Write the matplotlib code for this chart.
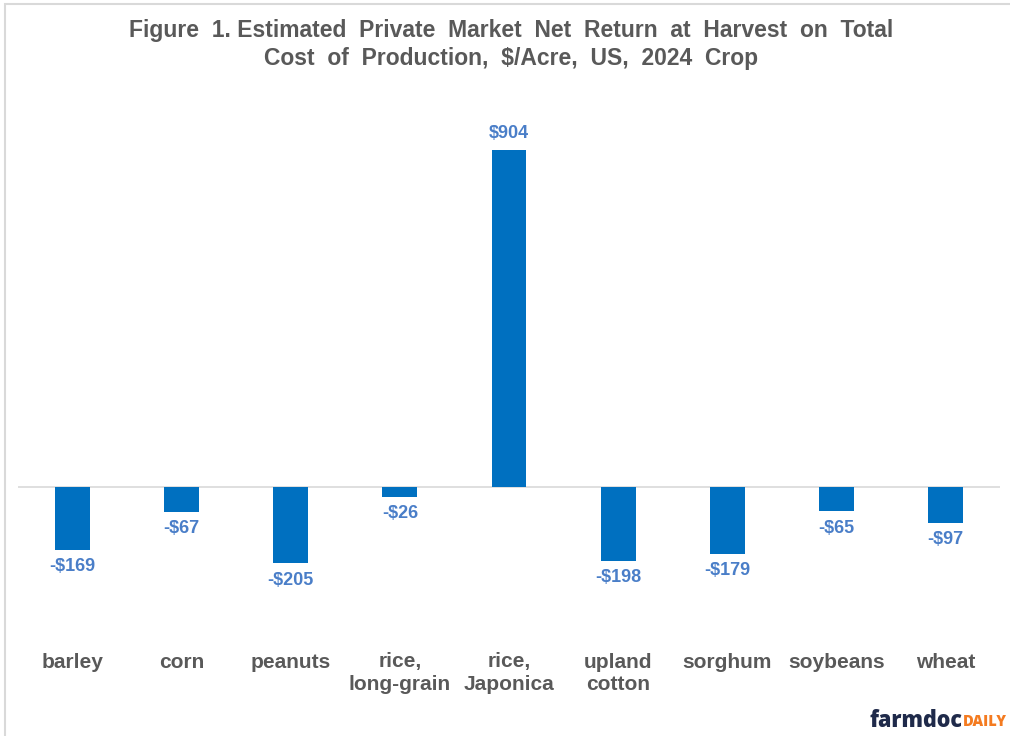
import matplotlib.pyplot as plt
from matplotlib.patches import Rectangle
import numpy as np

plt.rcParams['font.family'] = ['Liberation Sans', 'DejaVu Sans']

COLOR_BAR = "#0070C0"
COLOR_LABEL = "#4A7EC8"
COLOR_TEXT = "#595959"

crops = ["barley", "corn", "peanuts", "rice,\nlong-grain", "rice,\nJaponica",
         "upland\ncotton", "sorghum", "soybeans", "wheat"]
net_return = [-169, -67, -205, -26, 904, -198, -179, -65, -97]

W, H = 1010, 736
fig = plt.figure(figsize=(W / 100, H / 100), dpi=100)

# light frame, only top and left edges visible in the original crop
fig.patches.append(Rectangle((5 / W, -0.1), 1.2, 1 - 4 / H + 0.1, transform=fig.transFigure,
                             fill=False, edgecolor="#D9D9D9", linewidth=1.5))

# axes placed so zero sits at ~487 px and 904 at ~150 px
top_px, bot_px, zero_px = 130, 640, 487
scale = (zero_px - 150) / 904.0
ymax = (zero_px - top_px) / scale
ymin = -(bot_px - zero_px) / scale
ax = fig.add_axes([18 / W, 1 - bot_px / H, (1000 - 18) / W, (bot_px - top_px) / H])

x = np.arange(len(crops))
ax.bar(x, net_return, width=0.32, color=COLOR_BAR, zorder=2)
ax.axhline(0, color="#D9D9D9", linewidth=1.2, zorder=1)
ax.set_xlim(-0.5, len(crops) - 0.5)
ax.set_ylim(ymin, ymax)

for xi, v in zip(x, net_return):
    txt = f"${v}" if v >= 0 else f"-${-v}"
    ax.annotate(txt, (xi, v), xytext=(0, 6 if v >= 0 else -6), textcoords="offset points",
                ha="center", va="bottom" if v >= 0 else "top",
                fontsize=13, fontweight="bold", color=COLOR_LABEL)

ax.set_xticks(x, crops, fontsize=15, fontweight="bold", color=COLOR_TEXT, linespacing=1.2)
ax.tick_params(axis="x", length=0, pad=9)
ax.set_yticks([])
for s in ax.spines.values():
    s.set_visible(False)

fig.text(0.506, 1 - 31 / H, "Figure  1. Estimated  Private  Market  Net  Return  at  Harvest  on  Total",
         ha="center", va="center", fontsize=16.5, fontweight="bold", color=COLOR_TEXT)
fig.text(0.506, 1 - 59 / H, "Cost  of  Production,  $/Acre,  US,  2024  Crop",
         ha="center", va="center", fontsize=16.5, fontweight="bold", color=COLOR_TEXT)

# logo text, anchored at the right edge
t2 = fig.text(1007 / W, 1 - 722 / H, "DAILY", ha="right", va="center",
              fontsize=10.5, fontweight="heavy", color="#F47B20", family="Open Sans")
fig.canvas.draw()
bb = t2.get_window_extent()
fig.text(bb.x0 / W, 1 - 721 / H, "farmdoc", ha="right", va="center",
         fontsize=15.5, fontweight="heavy", color="#1F2A4A", family="Open Sans")

fig.savefig("out.png", dpi=100)
